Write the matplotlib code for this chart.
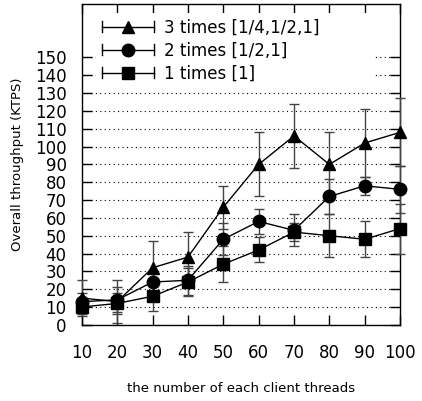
import numpy as np
import matplotlib.pyplot as plt
from matplotlib.lines import Line2D

# data
threads = [10, 20, 30, 40, 50, 60, 70, 80, 90, 100]

three_times = [15, 13, 32, 38, 66, 90, 106, 90, 102, 108]
three_err = [10, 12, 15, 14, 12, 18, 18, 18, 19, 19]

two_times = [13, 14, 24, 25, 48, 58, 53, 72, 78, 76]
two_err = [5, 7, 6, 8, 9, 7, 9, 10, 5, 13]

one_times = [10, 12, 16, 24, 34, 42, 52, 50, 48, 54]
one_err = [4, 6, 8, 8, 10, 7, 5, 12, 10, 14]

labels = ["3 times [1/4,1/2,1]", "2 times [1/2,1]", "1 times [1]"]


class CapLineHandler:
    # gnuplot-like key sample: line with end caps and a marker in the middle
    def legend_artist(self, legend, orig_handle, fontsize, handlebox):
        x0, y0 = handlebox.xdescent, handlebox.ydescent
        w, h = handlebox.width, handlebox.height
        yc = y0 + h / 2
        tr = handlebox.get_transform()
        line = Line2D([x0, x0 + w], [yc, yc], color="k", lw=1, transform=tr)
        caps = Line2D([x0, x0, np.nan, x0 + w, x0 + w],
                      [yc - 4, yc + 4, np.nan, yc - 4, yc + 4],
                      color="k", lw=1, transform=tr)
        mk = Line2D([x0 + w / 2], [yc], marker=orig_handle.get_marker(),
                    markersize=orig_handle.get_markersize(), color="k",
                    ls="none", transform=tr)
        handlebox.add_artist(line)
        handlebox.add_artist(caps)
        handlebox.add_artist(mk)
        return line


plt.rcParams["font.family"] = "DejaVu Sans"
fig = plt.figure(figsize=(4.22, 4.01), dpi=100)
ax = fig.add_axes([0.194, 0.19, 0.754, 0.80])

series = [(three_times, three_err, "^"), (two_times, two_err, "o"), (one_times, one_err, "s")]
handles = []
for vals, err, m in series:
    ax.errorbar(threads, vals, yerr=err, color="k", ecolor="#444444",
                elinewidth=1, capsize=3.5, capthick=1, lw=1,
                marker=m, markersize=9, zorder=3, clip_on=False)
    handles.append(Line2D([], [], color="k", marker=m, markersize=9))

ax.set_xlim(10, 100)
ax.set_ylim(0, 180)
ax.set_xticks(threads)
ax.set_yticks(range(0, 151, 10))
ax.tick_params(direction="in", length=7, width=1, labelsize=12,
               top=True, right=True)
ax.tick_params(axis="x", pad=14)
ax.tick_params(axis="y", pad=11)
ax.yaxis.grid(True, linestyle=(0, (1, 3)), color="k", lw=0.8)
ax.set_axisbelow(True)
for s in ax.spines.values():
    s.set_linewidth(1)

ax.set_ylabel("Overall throughput (KTPS)", fontsize=9.5, labelpad=8)
ax.set_xlabel("the number of each client threads", fontsize=9.5, labelpad=14)

leg = ax.legend(handles, labels, handler_map={Line2D: CapLineHandler()},
                loc="upper left", bbox_to_anchor=(0.03, 0.988, 0.9, 0.0),
                mode="expand", fontsize=12, frameon=True, fancybox=False,
                handlelength=3.1, handletextpad=0.6, labelspacing=0.3,
                borderpad=0.35, borderaxespad=0.3)
leg.get_frame().set_edgecolor("none")
leg.get_frame().set_facecolor("white")
leg.get_frame().set_alpha(1)
leg.set_zorder(5)

fig.savefig("out.png", dpi=100)
